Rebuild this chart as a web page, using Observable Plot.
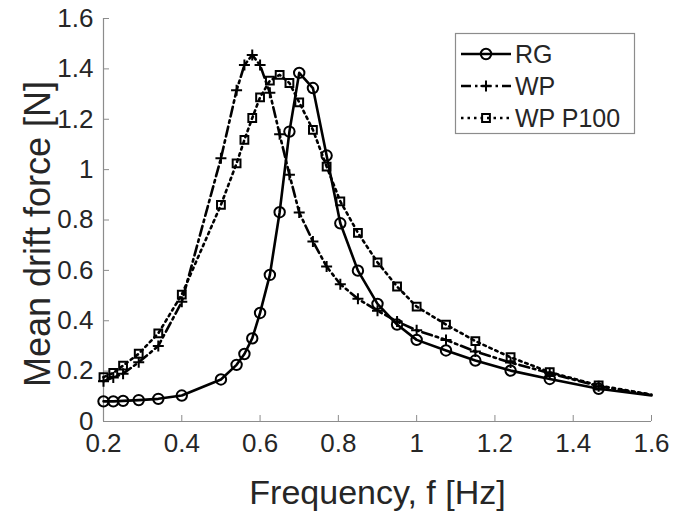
<!DOCTYPE html>
<html>
<head>
<meta charset="utf-8">
<script src="https://cdn.jsdelivr.net/npm/d3@7"></script>
<script src="https://cdn.jsdelivr.net/npm/@observablehq/plot@0.6"></script>
<style>
  html, body { margin: 0; padding: 0; background: #fff; }
  #wrap { position: relative; width: 673px; height: 515px; font-family: "Liberation Sans", Arial, sans-serif; }
  #legend { position: absolute; left: 0; top: 0; }
</style>
</head>
<body>
<div id="wrap"></div>
<script>
// ---- data ----
const freq = [0.2, 0.225, 0.25, 0.29, 0.34, 0.4, 0.5, 0.54, 0.56, 0.58, 0.6, 0.625, 0.65, 0.675, 0.7, 0.735, 0.77, 0.805, 0.85, 0.9, 0.95, 1.0, 1.075, 1.15, 1.24, 1.34, 1.465, 1.6];
const rg   = [0.08, 0.08, 0.082, 0.085, 0.09, 0.103, 0.167, 0.225, 0.268, 0.33, 0.431, 0.582, 0.831, 1.151, 1.384, 1.324, 1.056, 0.787, 0.599, 0.467, 0.385, 0.324, 0.282, 0.242, 0.202, 0.169, 0.13, 0.103];
const wp   = [0.16, 0.175, 0.19, 0.235, 0.30, 0.475, 1.045, 1.315, 1.415, 1.455, 1.415, 1.305, 1.14, 0.98, 0.83, 0.715, 0.615, 0.545, 0.487, 0.44, 0.397, 0.362, 0.324, 0.278, 0.234, 0.192, 0.14, 0.105];
const wpP100 = [0.176, 0.193, 0.222, 0.269, 0.35, 0.504, 0.86, 1.025, 1.118, 1.205, 1.287, 1.353, 1.376, 1.344, 1.267, 1.158, 1.012, 0.874, 0.749, 0.632, 0.536, 0.456, 0.385, 0.319, 0.255, 0.196, 0.143, 0.107];
const seriesNames = ["RG", "WP", "WP P100"];
const xTicks = [0.2, 0.4, 0.6, 0.8, 1.0, 1.2, 1.4, 1.6];
const yTicks = [0, 0.2, 0.4, 0.6, 0.8, 1.0, 1.2, 1.4, 1.6];
const xLabel = "Frequency, f [Hz]";
const yLabel = "Mean drift force [N]";

// ---- build tables ----
const values = [rg, wp, wpP100];
const rows = [];
seriesNames.forEach((s, si) => freq.forEach((f, i) => rows.push({series: s, f, v: values[si][i], marker: i < freq.length - 1})));

const plusSymbol = {
  draw(ctx, size) {
    const r = Math.sqrt(size / Math.PI);
    ctx.moveTo(-r, 0); ctx.lineTo(r, 0);
    ctx.moveTo(0, -r); ctx.lineTo(0, r);
  }
};
const styles = {
  "RG":      {dash: null,         symbol: "circle", r: 5.2},
  "WP":      {dash: "10,4,2.5,4", symbol: plusSymbol, r: 5.5},
  "WP P100": {dash: "2.5,4",      symbol: "square", r: 4.4}
};
const fmt = d3.format("~g");
const axisGray = "#8c8c8c";
const textCol = "#262626";

const marks = [
  Plot.ruleY([0], {stroke: axisGray, strokeWidth: 1.2}),
  Plot.ruleX([0.2], {stroke: axisGray, strokeWidth: 1.2}),
  Plot.axisX({ticks: xTicks, tickFormat: fmt, tickSize: -6, tickPadding: 18, stroke: axisGray, fill: textCol, label: null, fontSize: 26}),
  Plot.axisY({ticks: yTicks, tickFormat: fmt, tickSize: -6, tickPadding: 16, stroke: axisGray, fill: textCol, label: null, fontSize: 26}),
  Plot.text([xLabel], {frameAnchor: "bottom", lineAnchor: "middle", dy: 72, fontSize: 34, fill: textCol}),
  Plot.text([yLabel], {frameAnchor: "left", textAnchor: "middle", lineAnchor: "middle", rotate: -90, dx: -65, dy: 14, fontSize: 36, fill: textCol})
];
for (const s of seriesNames) {
  const st = styles[s];
  const data = rows.filter(d => d.series === s);
  marks.push(Plot.line(data, {x: "f", y: "v", stroke: "black", strokeWidth: 2.6, strokeDasharray: st.dash, strokeLinejoin: "round"}));
  marks.push(Plot.dot(data.filter(d => d.marker), {x: "f", y: "v", symbol: () => st.symbol, r: st.r, stroke: "black", strokeWidth: 2, fill: "none"}));
}

const chart = Plot.plot({
  width: 673,
  height: 515,
  marginLeft: 103,
  marginRight: 22,
  marginTop: 18,
  marginBottom: 94,
  x: {domain: [0.2, 1.6]},
  y: {domain: [0, 1.6]},
  style: {fontFamily: "Liberation Sans, Arial, sans-serif", fontSize: "26px", color: textCol, background: "white"},
  marks
});
document.getElementById("wrap").appendChild(chart);

// ---- legend overlay ----
const leg = d3.select("#wrap").append("svg").attr("id", "legend").attr("width", 673).attr("height", 515);
leg.append("rect").attr("x", 455.5).attr("y", 33.5).attr("width", 179).attr("height", 100)
  .attr("fill", "white").attr("stroke", axisGray).attr("stroke-width", 1.2);
const symPath = {
  "RG": d3.symbol(d3.symbolCircle, Math.PI * 5.2 * 5.2)(),
  "WP": (() => { const p = d3.path(); plusSymbol.draw(p, Math.PI * 5.5 * 5.5); return p.toString(); })(),
  "WP P100": d3.symbol(d3.symbolSquare, Math.PI * 4.4 * 4.4)()
};
seriesNames.forEach((s, i) => {
  const y = 54 + i * 32;
  const st = styles[s];
  leg.append("line").attr("x1", 461).attr("x2", 511).attr("y1", y).attr("y2", y)
    .attr("stroke", "black").attr("stroke-width", 2.6).attr("stroke-dasharray", st.dash);
  leg.append("path").attr("d", symPath[s]).attr("transform", `translate(486,${y})`)
    .attr("fill", "none").attr("stroke", "black").attr("stroke-width", 2);
  leg.append("text").attr("x", 515).attr("y", y).attr("dy", "0.35em")
    .attr("font-size", 25).attr("fill", textCol).text(s);
});
</script>
</body>
</html>
